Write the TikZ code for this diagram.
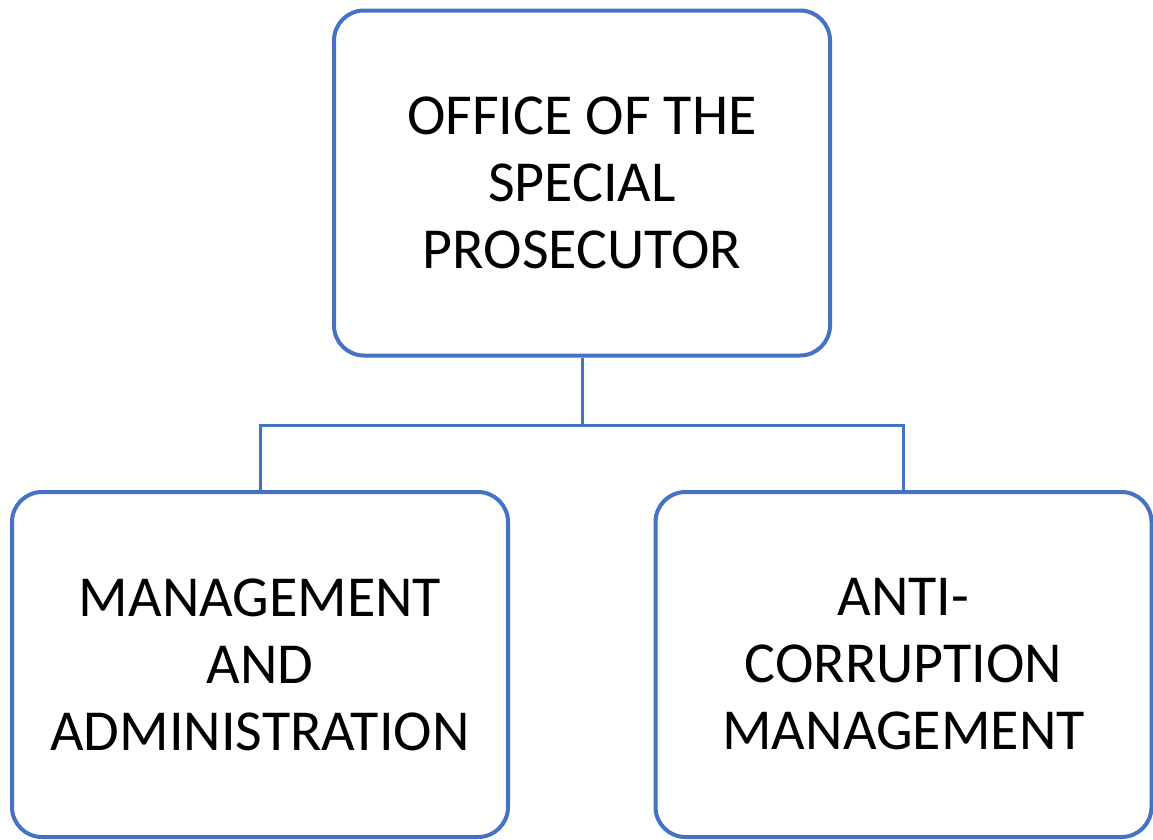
\documentclass[tikz,border=0pt]{standalone}
\usepackage{fontspec}
\setmainfont{Carlito}
\definecolor{officeblue}{HTML}{4472C4}
\begin{document}
\begin{tikzpicture}[x=1pt,y=-1pt,
        box/.style={rectangle,draw=officeblue,line width=4pt,rounded corners=30pt,
          minimum width=496pt,minimum height=345pt,inner sep=0pt,align=center,
          font=\fontsize{58}{67}\selectfont},
        link/.style={draw=officeblue,line width=3pt}]
      \useasboundingbox (0,0) rectangle (1153,839);
      \node (osp) at (582,183) [box] {OFFICE OF THE\\SPECIAL\\PROSECUTOR};
      \node (mgmt) at (260,664.5) [box] {MANAGEMENT\\AND\\ADMINISTRATION};
      \node (anti) at (903.5,664.5) [box] {ANTI-\\CORRUPTION\\MANAGEMENT};
      \coordinate (split) at (582,425);
      \draw[link] (osp.south) -- (split);
      \draw[link] (split) -| (mgmt.north);
      \draw[link] (split) -| (anti.north);
\end{tikzpicture}
\end{document}
